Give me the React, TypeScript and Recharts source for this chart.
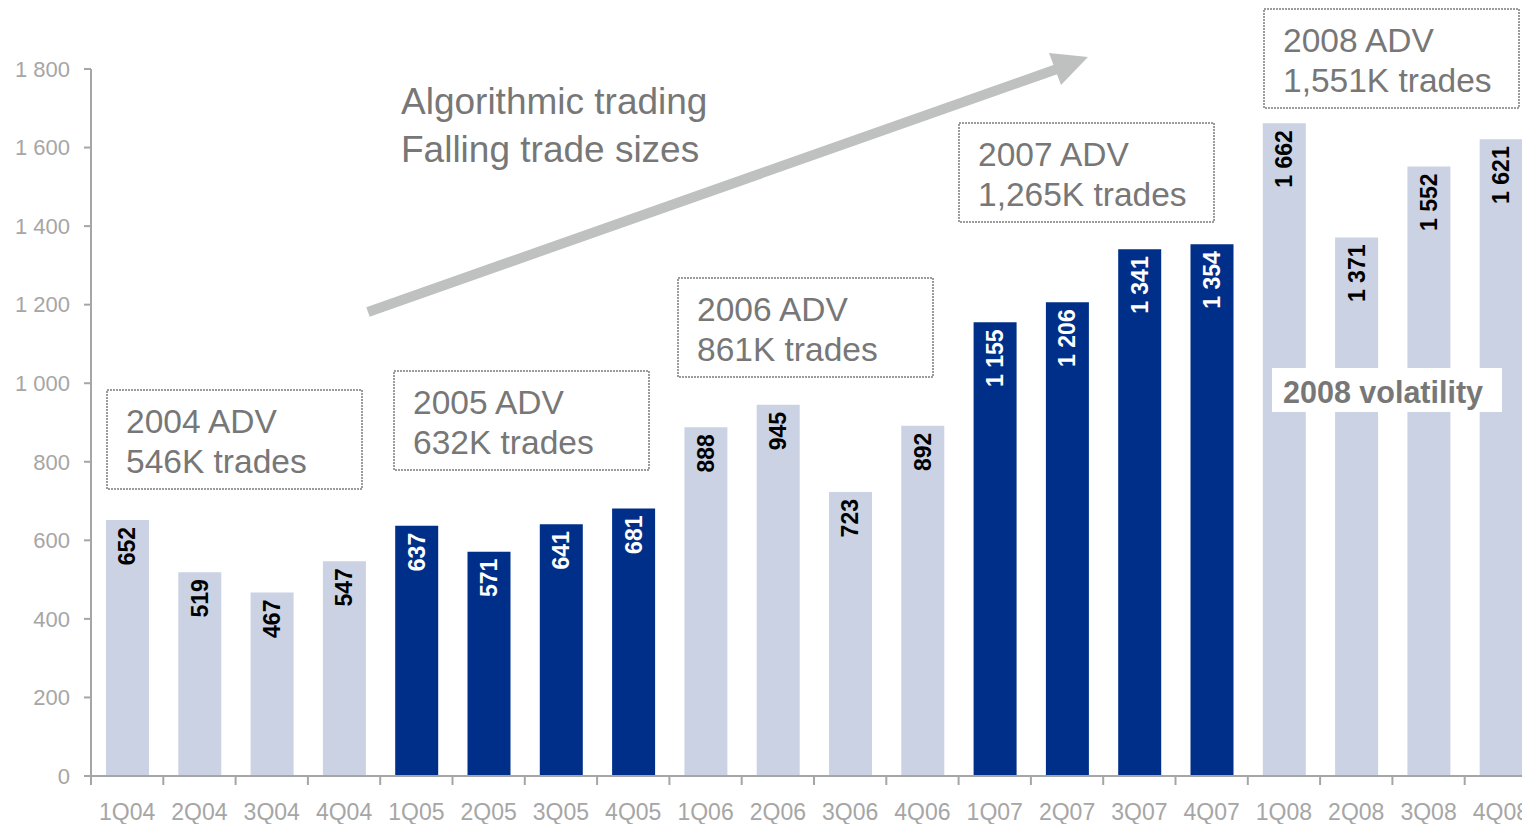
import React from 'react';
import { BarChart, Bar, XAxis, YAxis, Cell, LabelList } from 'recharts';

const quarters = [
  '1Q04', '2Q04', '3Q04', '4Q04',
  '1Q05', '2Q05', '3Q05', '4Q05',
  '1Q06', '2Q06', '3Q06', '4Q06',
  '1Q07', '2Q07', '3Q07', '4Q07',
  '1Q08', '2Q08', '3Q08', '4Q08',
];
const tradesK = [
  652, 519, 467, 547,
  637, 571, 641, 681,
  888, 945, 723, 892,
  1155, 1206, 1341, 1354,
  1662, 1371, 1552, 1621,
];
const darkQuarters = ['1Q05', '2Q05', '3Q05', '4Q05', '1Q07', '2Q07', '3Q07', '4Q07'];
const yTicks = [0, 200, 400, 600, 800, 1000, 1200, 1400, 1600, 1800];

const advYears = ['2004 ADV', '2005 ADV', '2006 ADV', '2007 ADV', '2008 ADV'];
const advTrades = ['546K trades', '632K trades', '861K trades', '1,265K trades', '1,551K trades'];
const trendLines = ['Algorithmic trading', 'Falling trade sizes'];
const volatilityNote = '2008 volatility';

const data = quarters.map((q, i) => ({ quarter: q, trades: tradesK[i], dark: darkQuarters.includes(q) }));

const LIGHT = '#cbd2e4';
const DARK = '#002f89';
const AXIS = '#a6a6a6';
const NOTE = '#777777';
const FONT = '"Liberation Sans", Arial, sans-serif';

// space as thousands separator, like "1 800"
const fmt = (v: number) => String(v).replace(/\B(?=(\d{3})+(?!\d))/g, ' ');

const BAND = 72.3;

const QuarterTick = (props: any) => {
  const { x, y, payload } = props;
  const left = x - BAND / 2;
  return (
    <g>
      <line x1={left} x2={left} y1={y - 8} y2={y + 1} stroke={AXIS} strokeWidth={2} />
      <text x={x} y={y + 36} textAnchor="middle" fill={AXIS} fontSize={23} fontFamily={FONT}>
        {payload.value}
      </text>
    </g>
  );
};

const BarValue = (props: any) => {
  const { x, y, width, value, index } = props;
  const i = typeof index === 'number' ? index : tradesK.indexOf(value);
  const cx = Number(x) + Number(width) / 2;
  const ty = Number(y) + 7;
  return (
    <text
      x={cx}
      y={ty}
      transform={`rotate(-90 ${cx} ${ty})`}
      textAnchor="end"
      dominantBaseline="central"
      fontWeight="bold"
      fontSize={23}
      fontFamily={FONT}
      fill={data[i] && data[i].dark ? '#ffffff' : '#000000'}
    >
      {fmt(value)}
    </text>
  );
};

// top-left corners of the yearly ADV boxes
const boxPos = [
  [107, 390],
  [394, 371],
  [678, 278],
  [959, 123],
  [1264, 9],
];

const Overlay = () => (
  <svg
    width={1522}
    height={824}
    style={{ position: 'absolute', left: 0, top: 0, pointerEvents: 'none' }}
    fontFamily={FONT}
  >
    <line x1={368} y1={312} x2={1057} y2={69} stroke="#bfc1c0" strokeWidth={10} />
    <polygon points="1049,53 1088,57 1061,85" fill="#bfc1c0" />
    <text x={401} y={114} fontSize={37} fill={NOTE}>{trendLines[0]}</text>
    <text x={401} y={162} fontSize={37} fill={NOTE}>{trendLines[1]}</text>

    {boxPos.map(([bx, by], i) => (
      <g key={advYears[i]}>
        <rect x={bx} y={by} width={255} height={99} fill="none" stroke="#9c9c9c" strokeWidth={2} strokeDasharray="2 1" />
        <text x={bx + 19} y={by + 43} fontSize={33.5} fill={NOTE}>{advYears[i]}</text>
        <text x={bx + 19} y={by + 83} fontSize={33.5} fill={NOTE}>{advTrades[i]}</text>
      </g>
    ))}

    <rect x={1272} y={368} width={230} height={44} fill="#ffffff" />
    <text x={1283} y={403} fontSize={30.5} fontWeight="bold" fill={NOTE}>{volatilityNote}</text>
  </svg>
);

export default function App() {
  return (
    <div
      style={{
        position: 'fixed',
        left: 0,
        top: 0,
        width: 1522,
        height: 824,
        overflow: 'hidden',
        background: '#ffffff',
        fontFamily: FONT,
      }}
    >
      <BarChart width={1540} height={824} data={data} margin={{ top: 69, right: 3, left: 0, bottom: 0 }}>
        <XAxis
          dataKey="quarter"
          height={48}
          axisLine={{ stroke: AXIS, strokeWidth: 2 }}
          tickLine={false}
          tickSize={8}
          tickMargin={0}
          interval={0}
          tick={<QuarterTick />}
        />
        <YAxis
          width={91}
          domain={[0, 1800]}
          ticks={yTicks}
          tickFormatter={fmt}
          axisLine={{ stroke: AXIS, strokeWidth: 2 }}
          tickLine={{ stroke: AXIS, strokeWidth: 2 }}
          tickSize={7}
          tickMargin={14}
          tick={{ fill: AXIS, fontSize: 22, fontFamily: FONT }}
        />
        <Bar dataKey="trades" barSize={43} isAnimationActive={false}>
          {data.map((d) => (
            <Cell key={d.quarter} fill={d.dark ? DARK : LIGHT} />
          ))}
          <LabelList dataKey="trades" content={<BarValue />} />
        </Bar>
      </BarChart>
      <Overlay />
    </div>
  );
}
